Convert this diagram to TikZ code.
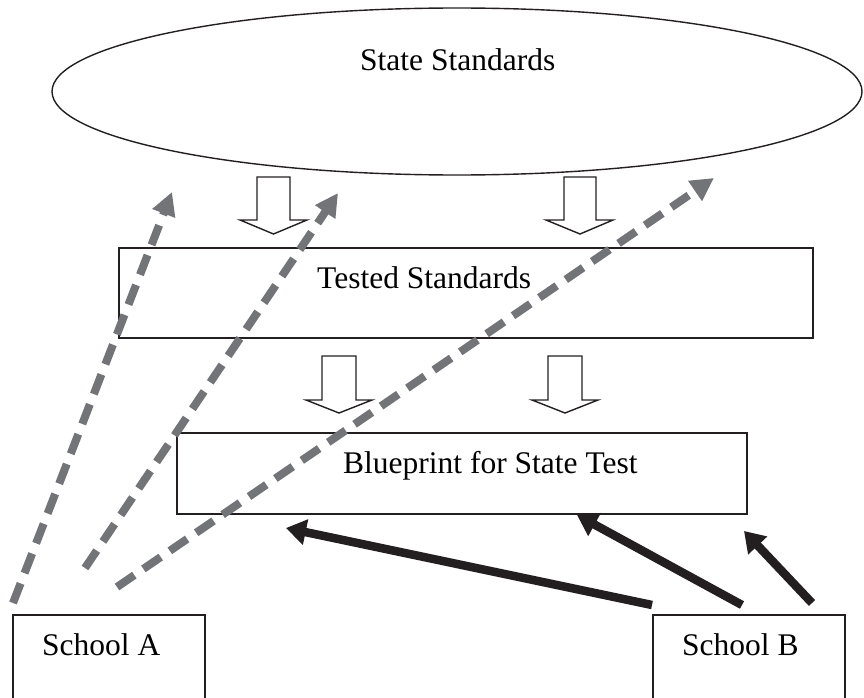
\documentclass[tikz,border=0pt]{standalone}
\usepackage{fontspec}
\setmainfont{Liberation Serif}
\usetikzlibrary{arrows.meta,shapes.geometric}
\definecolor{ink}{HTML}{231F20}
\definecolor{dashgray}{HTML}{737478}
\begin{document}
\begin{tikzpicture}[x=1pt,y=-1pt,
  box/.style={draw=ink, line width=1.3pt, rectangle, inner sep=0pt},
  lbl/.style={font=\fontsize{31.5}{36}\selectfont, text=black, anchor=base west, inner sep=0pt},
  blockarrow/.style={draw=ink, fill=white, line width=1.4pt, line join=miter},
  dasharrow/.style={draw=dashgray, line width=8pt, dash pattern=on 21pt off 11pt, -{Triangle[length=23pt,width=23pt]}},
  solidarrow/.style={draw=ink, line width=8.5pt, -{Triangle[length=20pt,width=25pt]}}]
\clip (0,0) rectangle (864,698);
\fill[white] (0,0) rectangle (864,698);

% ellipse
\node[draw=ink, line width=1.4pt, ellipse, minimum width=810pt, minimum height=167pt, inner sep=0pt] (state) at (457,91.5) {};
\node[lbl] (statelbl) at (360,71) {State Standards};

% boxes
\node[box, minimum width=694pt, minimum height=90pt] (tested) at (466,293) {};
\node[lbl] (testedlbl) at (317,288) {Tested Standards};
\node[box, minimum width=570pt, minimum height=81pt] (blue) at (462,473.5) {};
\node[lbl] (bluelbl) at (343,473) {Blueprint for State Test};
\node[box, minimum width=192pt, minimum height=130pt] (schoolA) at (109,680) {};
\node[lbl] (schoolAlbl) at (42,655) {School A};
\node[box, minimum width=192pt, minimum height=130pt] (schoolB) at (749,680) {};
\node[lbl] (schoolBlbl) at (682,655) {School B};

% block arrows
\draw[blockarrow] (257,177) -- (290,177) -- (290,220) -- (307,220) -- (273.5,234) -- (240,220) -- (257,220) -- cycle;
\draw[blockarrow] (564,177) -- (596,177) -- (596,220) -- (613,220) -- (580,234) -- (546,220) -- (564,220) -- cycle;
\draw[blockarrow] (322,356) -- (356,356) -- (356,400) -- (372,400) -- (339,413) -- (306,400) -- (322,400) -- cycle;
\draw[blockarrow] (548,356) -- (582,356) -- (582,400) -- (598,400) -- (565,413) -- (532,400) -- (548,400) -- cycle;

% free ends
\coordinate (a1) at (13,603);
\coordinate (a2) at (85,568);
\coordinate (a3) at (117,587);
\coordinate (t1) at (172,192);
\coordinate (t2) at (338,193);
\coordinate (t3) at (714,178);
\coordinate (b1) at (652,605);
\coordinate (b2) at (742,605);
\coordinate (b3) at (812,603);
\coordinate (u1) at (286,528);
\coordinate (u2) at (577,515);
\coordinate (u3) at (744,531);

% black arrows
\draw[solidarrow] (b1) -- (u1);
\draw[solidarrow] (b2) -- (u2);
\draw[solidarrow] (b3) -- (u3);

% dashed arrows
\draw[dasharrow] (a1) -- (t1);
\draw[dasharrow] (a2) -- (t2);
\draw[dasharrow] (a3) -- (t3);
\end{tikzpicture}
\end{document}
